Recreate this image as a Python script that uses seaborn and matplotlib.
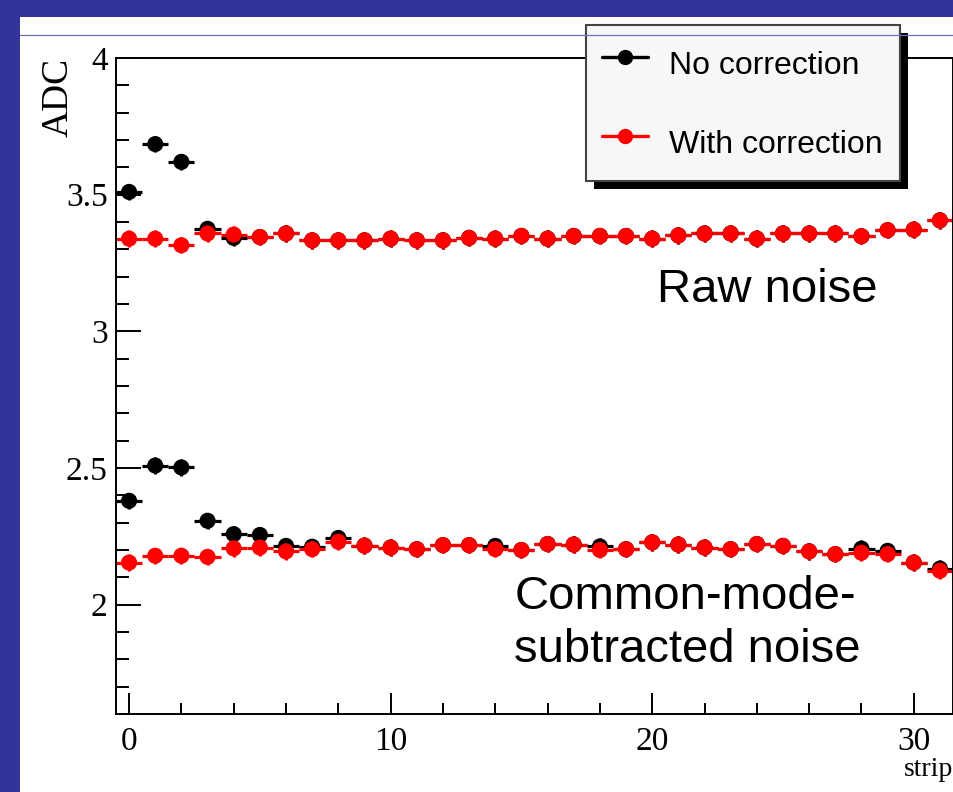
import numpy as np
import pandas as pd
import seaborn as sns
import matplotlib.pyplot as plt
from matplotlib.lines import Line2D
from matplotlib.patches import Rectangle
from matplotlib.ticker import MultipleLocator, FixedLocator

# strip numbers on the x axis
strips = list(range(32))

# raw noise (upper band)
raw_no_corr = [3.510, 3.685, 3.620, 3.375, 3.342, 3.345, 3.358, 3.333, 3.333, 3.333,
               3.339, 3.333, 3.333, 3.342, 3.339, 3.349, 3.339, 3.349, 3.349, 3.349,
               3.339, 3.351, 3.358, 3.358, 3.339, 3.358, 3.358, 3.358, 3.348, 3.370,
               3.372, 3.406]
raw_corr = [3.339, 3.339, 3.315, 3.358, 3.354, 3.345, 3.358, 3.333, 3.333, 3.333,
            3.339, 3.333, 3.333, 3.342, 3.339, 3.349, 3.339, 3.349, 3.349, 3.349,
            3.339, 3.351, 3.358, 3.358, 3.339, 3.358, 3.358, 3.358, 3.348, 3.370,
            3.372, 3.406]

# common-mode-subtracted noise (lower band)
cms_no_corr = [2.380, 2.509, 2.502, 2.307, 2.258, 2.255, 2.215, 2.212, 2.244, 2.216,
               2.209, 2.203, 2.218, 2.218, 2.215, 2.200, 2.222, 2.220, 2.213, 2.203,
               2.228, 2.220, 2.209, 2.203, 2.222, 2.215, 2.195, 2.185, 2.205, 2.197,
               2.154, 2.132]
cms_corr = [2.154, 2.179, 2.179, 2.175, 2.206, 2.209, 2.195, 2.203, 2.230, 2.216,
            2.209, 2.203, 2.218, 2.218, 2.203, 2.200, 2.222, 2.220, 2.200, 2.203,
            2.228, 2.220, 2.209, 2.203, 2.222, 2.215, 2.195, 2.185, 2.190, 2.185,
            2.154, 2.124]

labels = ['No correction', 'With correction']
colors = {'No correction': 'black', 'With correction': 'red'}

# long format, black rows first so red is drawn on top
frames = []
for lab, series in [(labels[0], raw_no_corr), (labels[0], cms_no_corr),
                    (labels[1], raw_corr), (labels[1], cms_corr)]:
    frames.append(pd.DataFrame({'strip': strips, 'adc': series, 'correction': lab}))
df = pd.concat(frames, ignore_index=True)

sns.set_style('ticks')
plt.rcParams['font.family'] = ['Liberation Serif', 'DejaVu Serif']
plt.rcParams.update({'text.color': 'black', 'axes.labelcolor': 'black',
                     'xtick.color': 'black', 'ytick.color': 'black'})

fig = plt.figure(figsize=(9.54, 7.92), dpi=100)
fig.patch.set_facecolor('#333399')
fig.add_artist(Rectangle((20 / 954, 0), 1 - 20 / 954, (792 - 17) / 792,
                         transform=fig.transFigure, facecolor='white',
                         edgecolor='none', zorder=-10))

ax = fig.add_axes([116 / 954, 78 / 792, 837 / 954, 656 / 792])

# bin-width bars
for lab in labels:
    sub = df[df['correction'] == lab]
    ax.errorbar(sub['strip'], sub['adc'], xerr=0.5, yerr=0.03, fmt='none',
                ecolor=colors[lab], elinewidth=2.3, capsize=0, zorder=2)

sns.scatterplot(data=df, x='strip', y='adc', hue='correction', palette=colors,
                s=135, linewidth=0, marker='o', legend=False, ax=ax, zorder=3)

ax.set_xlim(-0.5, 31.5)
ax.set_ylim(1.6, 4.0)
ax.xaxis.set_major_locator(FixedLocator([0, 10, 20, 30]))
ax.xaxis.set_minor_locator(MultipleLocator(2))
ax.yaxis.set_major_locator(MultipleLocator(0.5))
ax.yaxis.set_minor_locator(MultipleLocator(0.1))
ax.set_yticklabels([f'{v:g}' for v in ax.get_yticks()])

for s in ax.spines.values():
    s.set_visible(True)
    s.set_linewidth(1.4)
    s.set_color('black')
ax.tick_params(axis='both', which='both', direction='in', width=1.4,
               colors='black', labelsize=24)
ax.tick_params(axis='y', which='major', length=18, pad=6)
ax.tick_params(axis='y', which='minor', length=9.5)
ax.tick_params(axis='x', which='major', length=15, pad=9)
ax.tick_params(axis='x', which='minor', length=8)

ax.set_xlabel('strip', loc='right', fontsize=20, labelpad=0)
ax.set_ylabel('')
fig.text(58 / 954, 1 - 97 / 792, 'ADC', rotation=90, ha='center', va='center',
         fontsize=27)

ax.text(20.17, 3.106, 'Raw noise', fontsize=34, family='Liberation Sans',
        ha='left', va='baseline')
ax.text(14.73, 1.791, 'Common-mode-\nsubtracted noise', fontsize=34,
        family='Liberation Sans', ha='left', va='baseline', linespacing=1.27)

handles = [Line2D([], [], color=colors[l], marker='o', markersize=10, lw=2.4)
           for l in labels]
leg = fig.legend(handles, labels, loc='upper left', mode='expand',
                 bbox_to_anchor=(586 / 954, 1 - 182 / 792, 314 / 954, 157 / 792),
                 bbox_transform=fig.transFigure, borderaxespad=0,
                 prop={'family': 'Liberation Sans', 'size': 23},
                 frameon=True, fancybox=False, handlelength=1.45,
                 handleheight=1.8, handletextpad=0.65, labelspacing=1.05,
                 borderpad=0.5, facecolor='#f7f7f7', edgecolor='#444444',
                 framealpha=1)
leg.get_frame().set_linewidth(1.5)
leg.set_zorder(6)

fig.canvas.draw()
bb = leg.get_window_extent()
fig.add_artist(Rectangle((bb.x0 + 8, bb.y0 - 8), bb.width, bb.height,
                         transform=None, facecolor='black', edgecolor='none',
                         zorder=5))
fig.add_artist(Line2D([20 / 954, 1], [1 - 35 / 792] * 2, transform=fig.transFigure,
                      color='#7070c0', lw=0.9, zorder=7))

fig.savefig('out.png', dpi=100, facecolor=fig.get_facecolor())
